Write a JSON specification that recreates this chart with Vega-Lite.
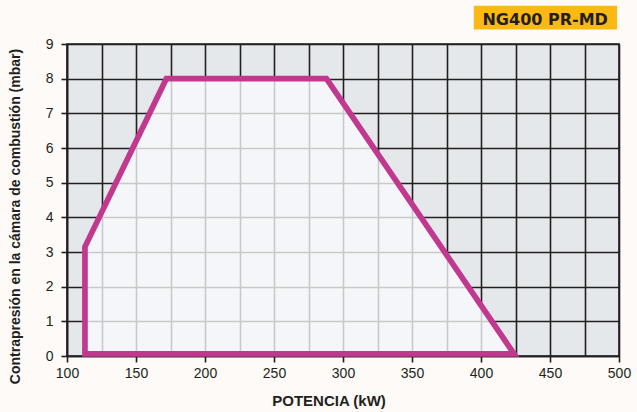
{
  "$schema": "https://vega.github.io/schema/vega-lite/v6.json",
  "width": 552,
  "height": 312,
  "autosize": {"type": "none"},
  "padding": {"left": 67, "top": 44, "right": 18, "bottom": 56},
  "background": "#fdfaf7",
  "config": {
    "view": {"fill": "#e5e8eb", "stroke": "#231f20", "strokeWidth": 1.6}
  },
  "resolve": {"axis": {"x": "independent", "y": "independent"}},
  "layer": [
    {
      "data": {"values": [
        {"potencia": 113, "presion": 3.15},
        {"potencia": 172, "presion": 8},
        {"potencia": 288, "presion": 8},
        {"potencia": 424, "presion": 0.06}
      ]},
      "mark": {"type": "area", "color": "#f8fafc", "opacity": 0.78},
      "encoding": {
        "x": {
          "field": "potencia", "type": "quantitative",
          "scale": {"domain": [100, 500], "nice": false, "zero": false},
          "axis": {
            "title": "POTENCIA (kW)",
            "values": [100,125,150,175,200,225,250,275,300,325,350,375,400,425,450,475,500],
            "labelExpr": "datum.value % 50 === 0 ? datum.label : ''",
            "tickOpacity": {"condition": {"test": "datum.value % 50 === 0", "value": 1}, "value": 0},
            "tickSize": 6, "tickColor": "#231f20", "tickWidth": 1.6,
            "grid": true, "gridColor": "#231f20", "gridWidth": 1.6, "gridOpacity": 1,
            "domainColor": "#231f20", "domainWidth": 1.6,
            "labelFont": "Liberation Sans", "labelFontSize": 14, "labelColor": "#231f20",
            "labelPadding": 4, "labelFlush": false, "labelOverlap": false, "labelBound": false,
            "titleFont": "Liberation Sans", "titleFontSize": 15, "titleFontWeight": "bold",
            "titleColor": "#231f20", "titleX": 261.5, "titleY": 49.5,
            "titleBaseline": "alphabetic", "titleAlign": "center"
          }
        },
        "y": {
          "field": "presion", "type": "quantitative",
          "scale": {"domain": [0, 9], "nice": false, "zero": false},
          "axis": {
            "title": "Contrapresión en la cámara de combustión (mbar)",
            "values": [0,1,2,3,4,5,6,7,8,9],
            "tickSize": 6, "tickColor": "#231f20", "tickWidth": 1.6,
            "grid": true, "gridColor": "#231f20", "gridWidth": 1.6, "gridOpacity": 1,
            "domainColor": "#231f20", "domainWidth": 1.6,
            "labelFont": "Liberation Sans", "labelFontSize": 14, "labelColor": "#231f20",
            "labelPadding": 8, "labelFlush": false, "labelOverlap": false, "labelBound": false,
            "titleFont": "Liberation Sans", "titleFontSize": 14, "titleFontWeight": "bold",
            "titleColor": "#231f20", "titleX": -48, "titleY": 172, "titleAngle": 270,
            "titleBaseline": "alphabetic", "titleAlign": "center"
          }
        },
        "y2": {"datum": 0.06}
      }
    },
    {
      "data": {"values": [
        {"potencia": 113, "presion": 0.06, "orden": 0},
        {"potencia": 113, "presion": 3.15, "orden": 1},
        {"potencia": 172, "presion": 8, "orden": 2},
        {"potencia": 288, "presion": 8, "orden": 3},
        {"potencia": 424, "presion": 0.06, "orden": 4},
        {"potencia": 113, "presion": 0.06, "orden": 5}
      ]},
      "mark": {"type": "line", "color": "#c0398f", "strokeWidth": 5.7, "strokeJoin": "miter", "strokeCap": "square"},
      "encoding": {
        "x": {"field": "potencia", "type": "quantitative", "axis": null},
        "y": {"field": "presion", "type": "quantitative", "axis": null},
        "order": {"field": "orden", "type": "quantitative"}
      }
    },
    {
      "data": {"values": [{"modelo": "NG400 PR-MD"}]},
      "mark": {"type": "rect", "color": "#fdb913"},
      "encoding": {
        "x": {"datum": 394.8, "type": "quantitative", "axis": null},
        "x2": {"datum": 498.6},
        "y": {"datum": 10.1, "type": "quantitative", "axis": null},
        "y2": {"datum": 9.42}
      }
    },
    {
      "data": {"values": [{"modelo": "NG400 PR-MD"}]},
      "mark": {"type": "text", "font": "DejaVu Sans", "fontSize": 16, "fontWeight": "bold", "color": "#231f20", "align": "center", "baseline": "alphabetic"},
      "encoding": {
        "x": {"datum": 446.5, "type": "quantitative", "axis": null},
        "y": {"datum": 9.55, "type": "quantitative", "axis": null},
        "text": {"field": "modelo"}
      }
    }
  ]
}
